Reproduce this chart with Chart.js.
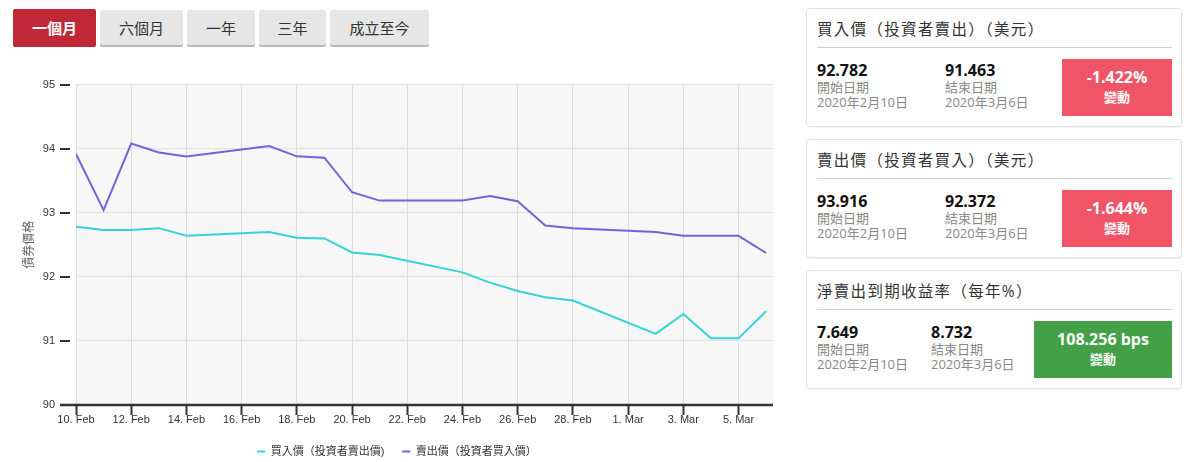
<!DOCTYPE html>
<html>
<head>
<meta charset="utf-8">
<script src="https://cdn.jsdelivr.net/npm/chart.js@4/dist/chart.umd.min.js"></script>
<style>
    html, body { margin: 0; padding: 0; width: 1190px; height: 462px; overflow: hidden; background: #fff; }
    body { font-family: "Open Sans", "Noto Sans CJK TC", sans-serif; position: relative; }
    .btn {
        position: absolute; top: 10px; height: 35px; line-height: 35px; text-align: center;
        background: #e6e6e6; color: #333; font-size: 15px; border-radius: 2px;
        box-shadow: 0 2px 0 #b9b9b9; font-family: "Noto Sans CJK TC", sans-serif;
    }
    .btn.on { background: #c0283a; color: #fff; font-weight: bold; box-shadow: none; top: 9px; height: 38px; line-height: 38px; }
    #chartBox { position: absolute; left: 0; top: 57px; width: 790px; height: 410px; }
    .card {
        position: absolute; left: 806px; width: 374px; height: 117px;
        border: 1px solid #e2e2e2; border-radius: 4px; box-shadow: 0 1px 2px rgba(0,0,0,0.06);
    }
    .card .title { position: absolute; left: 10px; top: 8px; font-size: 15.5px; color: #333; letter-spacing: 1.3px; }
    .card .sep { position: absolute; left: 10px; right: 9px; top: 38px; border-top: 1px solid #cfcfcf; }
    .card .col { position: absolute; top: 51px; }
    .card .val { font-size: 16px; font-weight: bold; color: #111; line-height: 20px; }
    .card .lbl { font-size: 13px; color: #888; line-height: 14.5px; }
    .card .box {
        position: absolute; top: 50px; right: 9px; height: 57px; color: #fff; text-align: center;
    }
    .box .big { font-size: 16px; font-weight: bold; margin-top: 8px; line-height: 20px; }
    .box .small { font-size: 13px; font-weight: bold; line-height: 20px; }
</style>
</head>
<body>
<div class="btn on" style="left:13px;width:83px;">一個月</div>
<div class="btn" style="left:100px;width:83px;">六個月</div>
<div class="btn" style="left:187px;width:68px;">一年</div>
<div class="btn" style="left:259px;width:67px;">三年</div>
<div class="btn" style="left:330px;width:99px;">成立至今</div>

<div id="chartBox"><canvas id="priceChart"></canvas></div>

<div class="card" style="top:8px;">
    <div class="title">買入價（投資者賣出）（美元）</div>
    <div class="sep"></div>
    <div class="col" style="left:10px;"><div class="val">92.782</div><div class="lbl">開始日期</div><div class="lbl">2020年2月10日</div></div>
    <div class="col" style="left:138px;"><div class="val">91.463</div><div class="lbl">結束日期</div><div class="lbl">2020年3月6日</div></div>
    <div class="box" style="width:110px;background:#ef5467;"><div class="big">-1.422%</div><div class="small">變動</div></div>
</div>
<div class="card" style="top:139px;">
    <div class="title">賣出價（投資者買入）（美元）</div>
    <div class="sep"></div>
    <div class="col" style="left:10px;"><div class="val">93.916</div><div class="lbl">開始日期</div><div class="lbl">2020年2月10日</div></div>
    <div class="col" style="left:138px;"><div class="val">92.372</div><div class="lbl">結束日期</div><div class="lbl">2020年3月6日</div></div>
    <div class="box" style="width:110px;background:#ef5467;"><div class="big">-1.644%</div><div class="small">變動</div></div>
</div>
<div class="card" style="top:270px;">
    <div class="title">淨賣出到期收益率（每年%）</div>
    <div class="sep"></div>
    <div class="col" style="left:10px;"><div class="val">7.649</div><div class="lbl">開始日期</div><div class="lbl">2020年2月10日</div></div>
    <div class="col" style="left:124px;"><div class="val">8.732</div><div class="lbl">結束日期</div><div class="lbl">2020年3月6日</div></div>
    <div class="box" style="width:138px;background:#43a047;"><div class="big">108.256 bps</div><div class="small">變動</div></div>
</div>

<script>
// 交易日 (週末不報價)
const dates = [
    "2020-02-10", "2020-02-11", "2020-02-12", "2020-02-13", "2020-02-14",
    "2020-02-17", "2020-02-18", "2020-02-19", "2020-02-20", "2020-02-21",
    "2020-02-24", "2020-02-25", "2020-02-26", "2020-02-27", "2020-02-28",
    "2020-03-02", "2020-03-03", "2020-03-04", "2020-03-05", "2020-03-06",
];
// 買入價（投資者賣出價）
const bidPrice = [
    92.782, 92.73, 92.73, 92.76, 92.64,
    92.70, 92.61, 92.60, 92.38, 92.34,
    92.07, 91.91, 91.78, 91.68, 91.63,
    91.11, 91.42, 91.04, 91.04, 91.463,
];
// 賣出價（投資者買入價）
const askPrice = [
    93.916, 93.04, 94.08, 93.94, 93.88,
    94.04, 93.88, 93.86, 93.32, 93.19,
    93.19, 93.26, 93.18, 92.80, 92.76,
    92.70, 92.64, 92.64, 92.64, 92.372,
];
// x 軸每兩天一個標籤
const tickLabels = [
    "10. Feb", "12. Feb", "14. Feb", "16. Feb", "18. Feb", "20. Feb", "22. Feb",
    "24. Feb", "26. Feb", "28. Feb", "1. Mar", "3. Mar", "5. Mar",
];
const yTicks = [90, 91, 92, 93, 94, 95];

const DAY = 86400000;
const start = Date.parse(dates[0]);
const dayOf = (d) => (Date.parse(d) - start) / DAY;
const toPoints = (arr) => arr.map((v, i) => ({ x: dayOf(dates[i]), y: v }));

// 繪圖區背景與座標軸刻度線
const axisPlugin = {
    id: "axisPlugin",
    beforeDraw(chart) {
        const { ctx, chartArea: a } = chart;
        ctx.save();
        ctx.fillStyle = "#f7f7f7";
        ctx.fillRect(a.left, a.top, a.right - a.left, a.bottom - a.top);
        ctx.restore();
    },
    afterDraw(chart) {
        const { ctx, chartArea: a, scales } = chart;
        ctx.save();
        ctx.strokeStyle = "#333";
        ctx.lineWidth = 2;
        yTicks.forEach((v) => {
            const y = Math.round(scales.y.getPixelForValue(v));
            ctx.beginPath();
            ctx.moveTo(a.left - 16, y);
            ctx.lineTo(a.left - 6, y);
            ctx.stroke();
        });
        ctx.lineWidth = 2.5;
        ctx.beginPath();
        ctx.moveTo(a.left - 16, a.bottom);
        ctx.lineTo(a.right, a.bottom);
        ctx.stroke();
        ctx.restore();
    },
};

const priceChart = new Chart(document.getElementById("priceChart"), {
    type: "line",
    data: {
        datasets: [
            {
                label: "買入價（投資者賣出價)",
                data: toPoints(bidPrice),
                borderColor: "#33d3d6",
                backgroundColor: "#33d3d6",
                borderWidth: 2,
                pointRadius: 0,
                tension: 0,
            },
            {
                label: "賣出價（投資者買入價）",
                data: toPoints(askPrice),
                borderColor: "#7363da",
                backgroundColor: "#7363da",
                borderWidth: 2,
                pointRadius: 0,
                tension: 0,
            },
        ],
    },
    options: {
        responsive: true,
        maintainAspectRatio: false,
        animation: false,
        layout: { padding: { top: 21, right: 17, left: 21, bottom: 0 } },
        plugins: {
            tooltip: { enabled: false },
            legend: {
                position: "bottom",
                labels: {
                    usePointStyle: true,
                    pointStyle: "line",
                    pointStyleWidth: 8,
                    padding: 18,
                    color: "#333",
                    font: { family: "'Liberation Sans', 'Noto Sans CJK TC', sans-serif", size: 11 },
                },
            },
        },
        scales: {
            x: {
                type: "linear",
                min: 0,
                max: 25.25,
                afterBuildTicks: (s) => { s.ticks = tickLabels.map((t, i) => ({ value: i * 2 })); },
                afterFit: (s) => { s.height = 23; },
                grid: { color: "#dcdcdc", drawTicks: true, tickLength: 10, tickColor: "#333", tickWidth: 2 },
                border: { display: false },
                ticks: {
                    padding: -2,
                    maxRotation: 0,
                    autoSkip: false,
                    color: "#333",
                    font: { family: "'Liberation Sans', sans-serif", size: 11 },
                    callback: (v) => tickLabels[Math.round(v / 2)],
                },
            },
            y: {
                min: 90,
                max: 95,
                afterBuildTicks: (s) => { s.ticks = yTicks.map((v) => ({ value: v })); },
                afterFit: (s) => { s.width = 55; },
                grid: { color: "#e2e2e2", drawTicks: false },
                border: { display: false },
                title: {
                    display: true,
                    text: "債券價格",
                    color: "#666",
                    padding: { top: 0, bottom: 0 },
                    font: { family: "'Noto Sans CJK TC', sans-serif", size: 12 },
                },
                ticks: {
                    padding: 21,
                    color: "#333",
                    font: { family: "'Liberation Sans', sans-serif", size: 11 },
                },
            },
        },
    },
    plugins: [axisPlugin],
});
</script>
</body>
</html>
